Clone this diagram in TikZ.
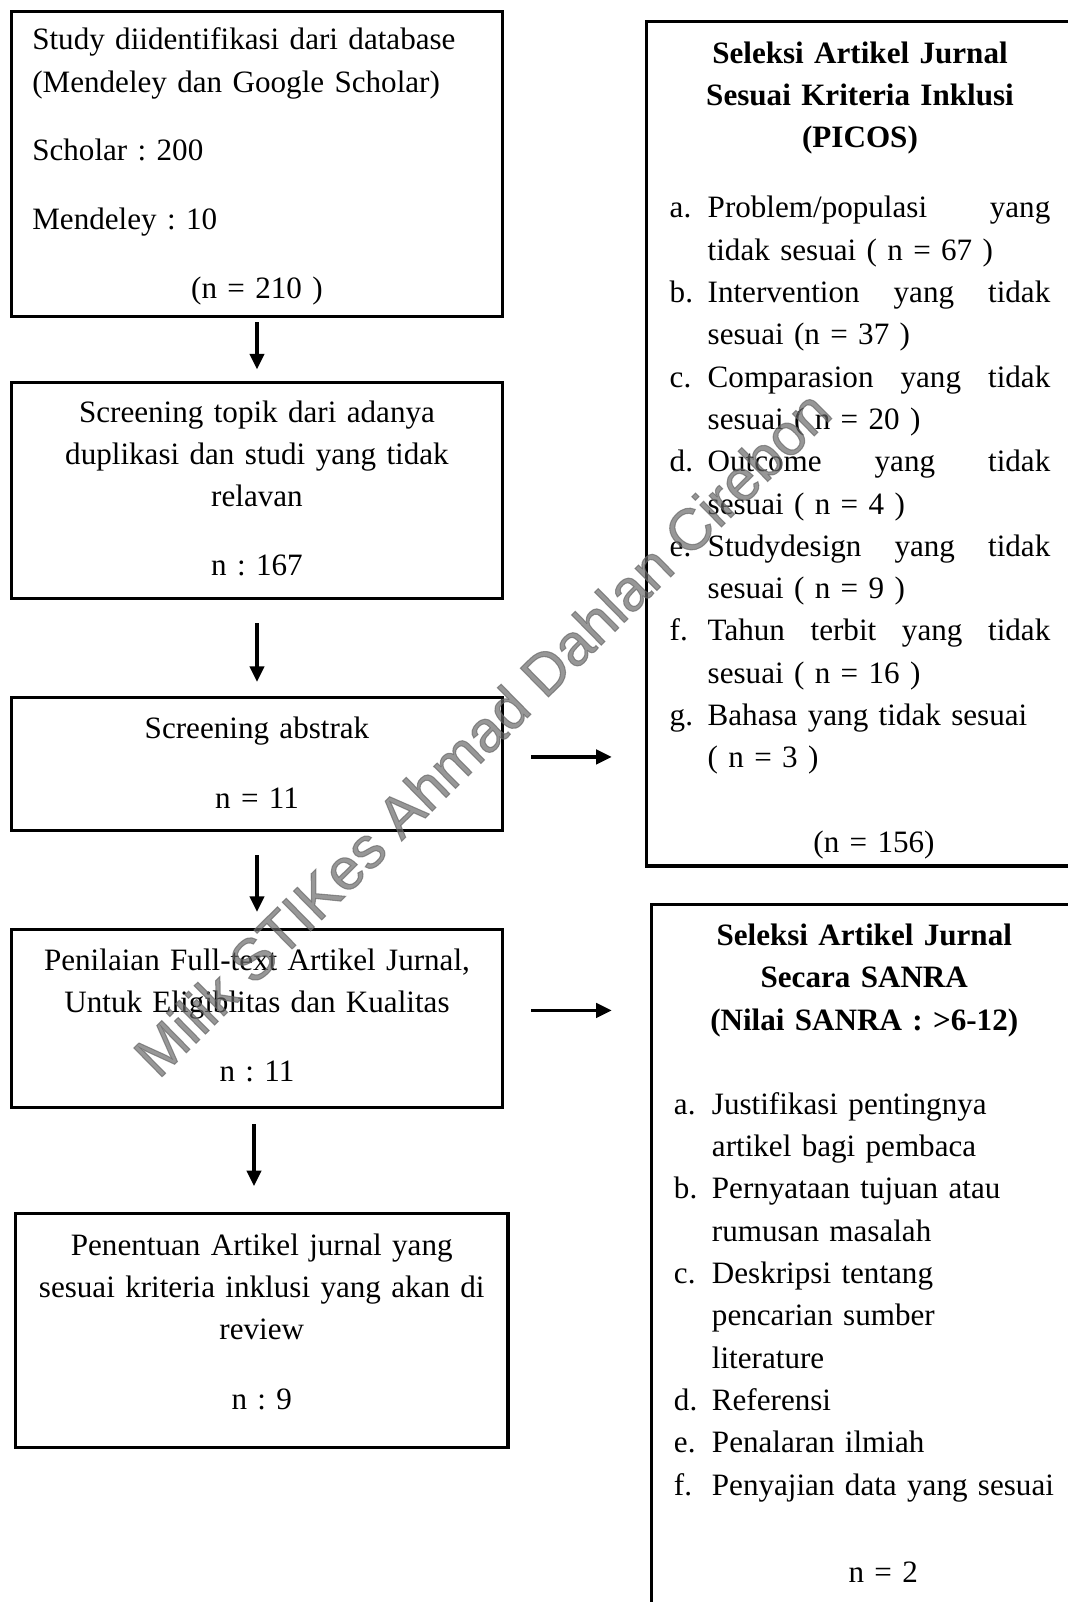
\documentclass[tikz,border=0pt]{standalone}
\usepackage{fontspec}
\setmainfont{Liberation Serif}
\newfontfamily\stampfont[FakeBold=1.8]{Liberation Sans}
\usetikzlibrary{arrows.meta,positioning}
\frenchspacing
\newcommand{\topgap}[1]{\rule{0pt}{#1}}
\newcommand{\botgap}[1]{\rule[-#1]{0pt}{0pt}}
\newcommand{\listline}[2]{\makebox[19pt][l]{#1}\makebox[171.3pt][l]{#2}}
\tikzset{
    every node/.append style={align=center},
    stepbox/.style={rectangle,draw=black,line width=1.6pt,inner xsep=10.4pt,inner ysep=0pt,
        text width=224.7pt,minimum width=245.5pt,font=\fontsize{15.55}{21.15}\selectfont},
    sidebox/.style={rectangle,draw=black,line width=1.6pt,inner xsep=5pt,inner ysep=0pt,
        text width=200pt,font=\fontsize{15.55}{21.15}\selectfont},
    arr/.style={-{Triangle[length=7.8pt,width=7.2pt]},line width=1.6pt},
    stamp/.style={font=\fontsize{29.2}{30}\stampfont,text=black!60,opacity=0.68,rotate=44.5,inner sep=0pt}
}
\begin{document}
\begin{tikzpicture}[x=0.5pt,y=0.5pt,node distance=31.15pt]
    \useasboundingbox (0,0) rectangle (1068,-1602);

    % left column
    \node[stepbox,align=left,minimum height=152.5pt] (ident) at (257,-164) {\topgap{19.25pt}Study diidentifikasi dari database\\(Mendeley dan Google Scholar)\\[12.85pt]Scholar : 200\\[13.35pt]Mendeley : 10\\[13.35pt]\hspace*{\fill}(n = 210 )\hspace*{\fill}\botgap{9.25pt}};
    \node[stepbox,below=of ident,minimum height=108.25pt] (screen) {\topgap{20pt}Screening topik dari adanya\\duplikasi dan studi yang tidak\\relavan\\[13.35pt]n : 167\botgap{11.45pt}};
    \node[stepbox,below=47.9pt of screen,minimum height=66.25pt] (abstrak) {\topgap{20.4pt}Screening abstrak\\[13.85pt]n = 11\botgap{10.85pt}};
    \node[stepbox,below=47.9pt of abstrak,minimum height=89pt] (fulltext) {\topgap{20.5pt}Penilaian Full-text Artikel Jurnal,\\Untuk Eligiblitas dan Kualitas\\[13.5pt]n : 11\botgap{12.7pt}};
    \node[stepbox,below=51.4pt of fulltext,xshift=2.375pt,minimum width=246.25pt,minimum height=117pt] (final) {\topgap{21pt}Penentuan Artikel jurnal yang\\sesuai kriteria inklusi yang akan di\\review\\[13.85pt]n : 9\botgap{18.7pt}};

    % exclusion boxes
    \node[sidebox,minimum width=213.5pt,minimum height=422.25pt] (picos) at (860,-443.75) {\topgap{20.9pt}\textbf{Seleksi Artikel Jurnal}\\
        \textbf{Sesuai Kriteria Inklusi}\\
        \textbf{(PICOS)}\\[13.85pt]
        \listline{a.}{Problem/populasi\hfill yang}\\
        \listline{}{tidak sesuai ( n = 67 )}\\
        \listline{b.}{Intervention\hfill yang\hfill tidak}\\
        \listline{}{sesuai (n = 37 )}\\
        \listline{c.}{Comparasion\hfill yang\hfill tidak}\\
        \listline{}{sesuai ( n = 20 )}\\
        \listline{d.}{Outcome\hfill yang\hfill tidak}\\
        \listline{}{sesuai ( n = 4 )}\\
        \listline{e.}{Studydesign\hfill yang\hfill tidak}\\
        \listline{}{sesuai ( n = 9 )}\\
        \listline{f.}{Tahun\hfill terbit\hfill yang\hfill tidak}\\
        \listline{}{sesuai ( n = 16 )}\\
        \listline{g.}{Bahasa yang tidak sesuai}\\
        \listline{}{( n = 3 )}\\[21.15pt]
        \hspace*{14pt}(n = 156)\botgap{6.8pt}};
    \node[sidebox,minimum width=212.75pt,minimum height=353.75pt] (sanra) at (864.25,-1258.25) {\topgap{20.5pt}\textbf{Seleksi Artikel Jurnal}\\
        \textbf{Secara SANRA}\\
        \textbf{(Nilai SANRA : >6-12)}\\[21pt]
        \listline{a.}{Justifikasi pentingnya}\\
        \listline{}{artikel bagi pembaca}\\
        \listline{b.}{Pernyataan tujuan atau}\\
        \listline{}{rumusan masalah}\\
        \listline{c.}{Deskripsi tentang}\\
        \listline{}{pencarian sumber}\\
        \listline{}{literature}\\
        \listline{d.}{Referensi}\\
        \listline{e.}{Penalaran ilmiah}\\
        \listline{f.}{Penyajian data yang sesuai}\\[22.35pt]
        \hspace*{19pt}n = 2\botgap{15pt}};

    \draw[arr,shorten <=1.95pt,shorten >=5.55pt] (ident) -- (screen);
    \draw[arr,shorten <=11.45pt,shorten >=7.1pt] (screen) -- (abstrak);
    \draw[arr,shorten <=11.7pt,shorten >=7.85pt] (abstrak) -- (fulltext);
    \draw[arr,shorten <=7.7pt,shorten >=12.7pt] ([xshift=-1.5pt]fulltext.south) -- ([xshift=-1.5pt]fulltext.south |- final.north);
    \draw[arr,shorten <=13.45pt,shorten >=16.6pt] ([yshift=3.5pt]abstrak.east) -- ([yshift=3.5pt]abstrak.east -| picos.west);
    \draw[arr,shorten <=13.45pt,shorten >=19.1pt] ([yshift=3.85pt]fulltext.east) -- ([yshift=3.85pt]fulltext.east -| sanra.west);

    \node[stamp] (milik) at (482,-733) {Milik STIKes Ahmad Dahlan Cirebon};
\end{tikzpicture}
\end{document}
